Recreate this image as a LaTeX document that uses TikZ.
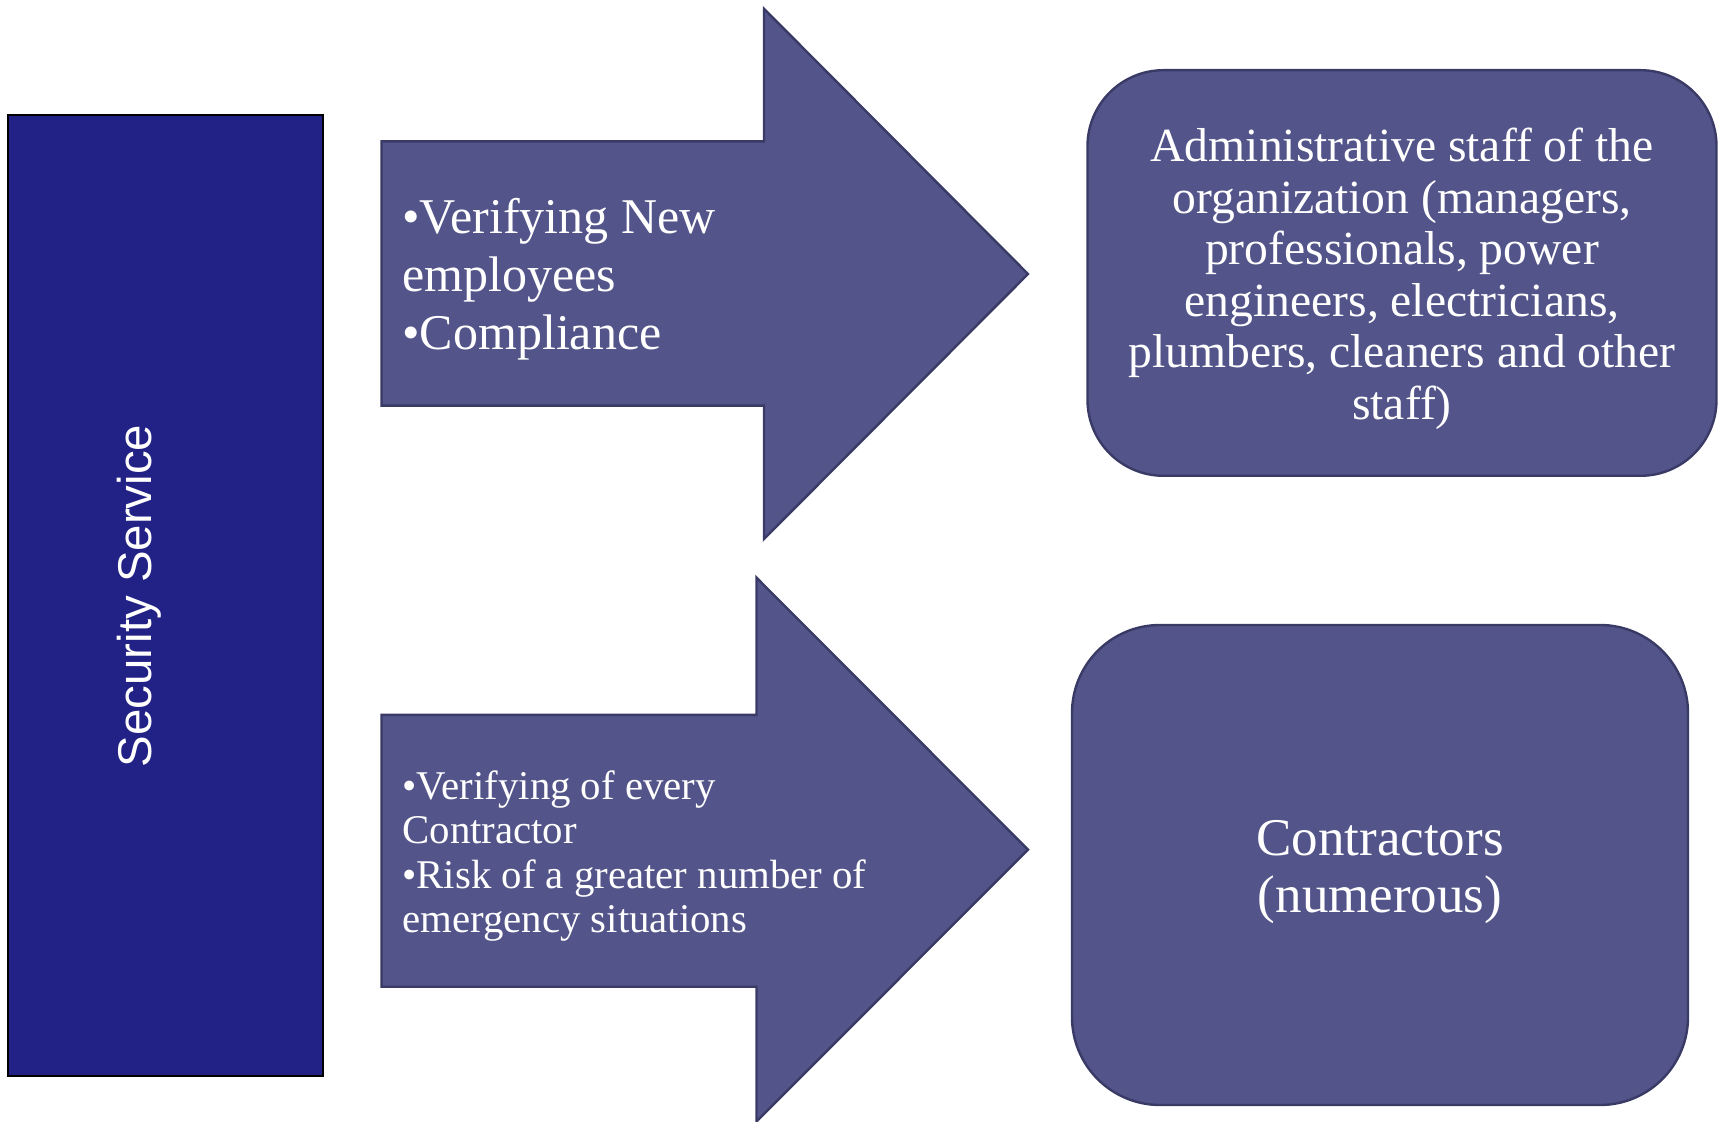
\documentclass[tikz,border=0pt]{standalone}
\usepackage{fontspec}
\setmainfont{Liberation Serif}
\setsansfont{Liberation Sans}
\definecolor{secfill}{RGB}{33,33,134}
\definecolor{shapefill}{RGB}{83,84,137}
\definecolor{shapeline}{RGB}{58,58,102}
\tikzset{
  secbox/.style={draw=black, fill=secfill, line width=1pt},
  arrowshape/.style={draw=shapeline, fill=shapefill, line width=1.2pt, line join=miter},
  roundbox/.style={draw=shapeline, fill=shapefill, line width=1.2pt},
  wtext/.style={text=white, inner sep=0pt},
}
\begin{document}
\begin{tikzpicture}[x=0.5pt,y=-0.5pt]
\useasboundingbox (0,0) rectangle (1719,1122);
% Security service box
\draw[secbox] (7.7,115) rectangle (323.4,1075.5);
\node[wtext, rotate=90, font=\sffamily\fontsize{23.7pt}{28pt}\selectfont] (sec) at (139,596) {Security Service};
% Arrow 1
\draw[arrowshape] (381.5,141.4) -- (764,141.4) -- (764,8.8) -- (1028,274) -- (764,539) -- (764,405.6) -- (381.5,405.6) -- cycle;
\node[wtext, anchor=west, align=left, font=\fontsize{25pt}{29pt}\selectfont] (a1) at (402,279) {•Verifying New\\employees\\•Compliance};
% Arrow 2
\draw[arrowshape] (381.5,714.8) -- (756.5,714.8) -- (756.5,577.7) -- (1028,849.6) -- (756.5,1121.5) -- (756.5,986.7) -- (381.5,986.7) -- cycle;
\node[wtext, anchor=west, align=left, font=\fontsize{20.4pt}{22.2pt}\selectfont] (a2) at (402,856) {•Verifying of every\\Contractor\\•Risk of a greater number of\\emergency situations};
% Box 1
\draw[roundbox, rounded corners=38pt] (1087.5,70.2) rectangle (1716.5,475.8);
\node[wtext, align=center, font=\fontsize{23.8pt}{25.75pt}\selectfont] (b1) at (1402,279) {Administrative staff of the\\organization (managers,\\professionals, power\\engineers, electricians,\\plumbers, cleaners and other\\staff)};
% Box 2
\draw[roundbox, rounded corners=44pt] (1072,625) rectangle (1688,1105);
\node[wtext, align=center, font=\fontsize{26.5pt}{28.5pt}\selectfont] (b2) at (1380,872) {Contractors\\(numerous)};
\end{tikzpicture}
\end{document}
